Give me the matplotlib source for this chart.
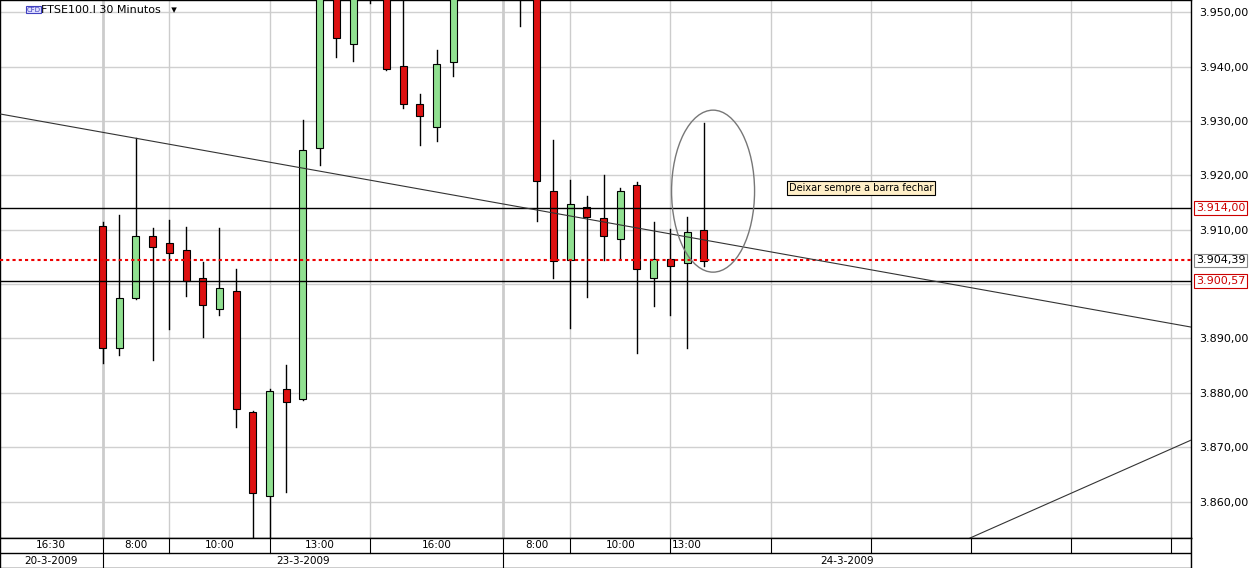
import matplotlib
matplotlib.use("Agg")
import matplotlib.pyplot as plt
from matplotlib.patches import Rectangle, Ellipse

# OHLC data (30-minute bars, indexed)
opens  = [3910.7,3888.2,3897.4,3908.8,3907.5,3906.3,3901.1,3895.5,3898.7,3876.4,3861.1,3880.7,3878.8,3925.0,3962,3944.2,3958,3960,3940.1,3933.1,3928.9,3940.9,
          3956,3960,3962,3958,3965,3917.1,3904.4,3914.1,3912.1,3908.3,3918.2,3901.2,3904.7,3903.8,3910.0]
highs  = [3911.4,3912.7,3926.8,3910.3,3911.8,3910.5,3904.1,3910.3,3902.7,3876.6,3880.7,3885.1,3930.2,3965,3965,3962,3962,3963,3953,3934.9,3943.1,3960,
          3966,3968,3967,3962,3967,3926.5,3919.1,3916.2,3920.1,3917.6,3918.7,3911.5,3910.1,3912.4,3929.6]
lows   = [3885.5,3887.0,3897.2,3886.0,3891.7,3897.9,3890.3,3894.4,3873.8,3852.0,3852.0,3861.8,3878.6,3922.0,3941.7,3941.1,3951.7,3939.3,3932.4,3925.5,3926.4,3938.3,
          3954,3956,3955,3947.5,3911.7,3901.2,3891.9,3897.7,3904.4,3904.7,3887.4,3896.0,3894.3,3888.2,3903.4]
closes = [3888.2,3897.4,3908.8,3906.9,3905.7,3900.6,3896.1,3899.2,3877.0,3861.5,3880.3,3878.4,3924.6,3960,3945.2,3958,3955,3939.5,3933.1,3931.0,3940.4,3956,
          3962,3964,3958,3956,3919.0,3904.3,3914.7,3912.4,3908.9,3917.2,3902.7,3904.7,3903.3,3909.5,3904.3]

yticks = [3860,3870,3880,3890,3900,3910,3920,3930,3940,3950]
level_hi, level_lo, last_price = 3914.00, 3900.57, 3904.39
trend1 = ((-6.14, 3931.3), (65.18, 3892.1))
trend2 = ((51.95, 3853.3), (65.18, 3871.3))
grid_x = [0,4,10,16,24,28,34,40,46,52,58,64]
time_labels = [(-6.14,0,"16:30"),(0,4,"8:00"),(4,10,"10:00"),(10,16,"13:00"),(16,24,"16:00"),
               (24,28,"8:00"),(28,34,"10:00"),(34,36,"13:00"),(40,46,""),(46,52,""),(52,58,""),(58,64,""),(64,65.18,"")]
cell_ends = [0,4,10,16,24,28,34,40,46,52,58,64,65.18]
date_labels = [(-6.14,0,"20-3-2009"),(0,24,"23-3-2009"),(24,65.18,"24-3-2009")]

W,H = 1249,568
fig = plt.figure(figsize=(W/100,H/100),dpi=100)
fig.patch.set_facecolor("white")
ax = fig.add_axes([0,(H-538)/H,1191/W,538/H])
XL = (-6.14,65.18); YL=(3853.3,3952.26)
ax.set_xlim(*XL); ax.set_ylim(*YL)
ax.set_xticks([]); ax.yaxis.tick_right()
ax.set_yticks(yticks)
ax.set_yticklabels(["" if v==3900 else f"3.{int(v)-3000:03d},00" for v in yticks], fontsize=8, family="DejaVu Sans")
ax.tick_params(axis="y", length=0, pad=6)
for s in ax.spines.values(): s.set_color("black"); s.set_linewidth(1)
for y in yticks: ax.axhline(y,color="#d0d0d0",lw=1,zorder=0)
for gx in grid_x: ax.axvline(gx,color="#cccccc",lw=2 if gx in (0,24) else 1,zorder=0)

bw=0.42
for i,(o,h,l,c) in enumerate(zip(opens,highs,lows,closes)):
    ax.plot([i,i],[l,h],color="black",lw=1,zorder=2)
    col = "#90e090" if c>=o else "#dd1111"
    ax.add_patch(Rectangle((i-bw/2,min(o,c)),bw,max(abs(c-o),0.3),facecolor=col,edgecolor="black",lw=0.8,zorder=3))

ax.axhline(level_hi,color="black",lw=1,zorder=4)
ax.axhline(level_lo,color="black",lw=1,zorder=4)
ax.axhline(last_price,color="#ee0000",lw=1.5,ls=(0,(1.5,1.5)),zorder=4)
ax.plot(*zip(*trend1),color="#333333",lw=0.8,zorder=4)
ax.plot(*zip(*trend2),color="#333333",lw=0.8,zorder=4)
ax.add_patch(Ellipse((36.56,3917.1),4.97,29.8,fill=False,edgecolor="#777777",lw=1,zorder=5))
ax.text(41.1,3917.6,"Deixar sempre a barra fechar",fontsize=7,va="center",ha="left",
        bbox=dict(boxstyle="square,pad=0.2",fc="#ffefc8",ec="black",lw=0.8),zorder=6)
ax.text(0.0345,0.982,"FTSE100.I 30 Minutos   ▾",transform=ax.transAxes,fontsize=8,va="center",ha="left")
ax.text(0.0225,0.982,"CFD",transform=ax.transAxes,fontsize=5,va="center",ha="left",color="#4040c0",
        bbox=dict(boxstyle="square,pad=0.1",fc="#e0e0ff",ec="#4040c0",lw=0.8))
for val,tc in [(level_hi,"#cc0000"),(last_price,"black"),(level_lo,"#cc0000")]:
    ax.text(1.0+5/1191,val,f"3.{val-3000:06.2f}".replace(".",",",2).replace(",",".",1),transform=ax.get_yaxis_transform(),
            fontsize=8,va="center",ha="left",color=tc,
            bbox=dict(boxstyle="square,pad=0.15",fc="white",ec=tc if tc!="black" else "#888888",lw=0.8),zorder=7)

# bottom axis rows
bx = fig.add_axes([0,0,1191/W,30/H])
bx.set_xlim(*XL); bx.set_ylim(0,2)
bx.set_xticks([]); bx.set_yticks([])
for s in bx.spines.values(): s.set_linewidth(1)
bx.axhline(1,color="black",lw=1)
for b in cell_ends:
    bx.plot([b,b],[1,2],color="black",lw=0.8)
for a,b,t in time_labels:
    bx.text((a+b)/2,1.5,t,ha="center",va="center",fontsize=7.5)
for a,b,t in date_labels:
    bx.plot([b,b],[0,1],color="black",lw=0.8)
    bx.text((a+b)/2,0.5,t,ha="center",va="center",fontsize=7.5)
fig.savefig("out.png",dpi=100)
